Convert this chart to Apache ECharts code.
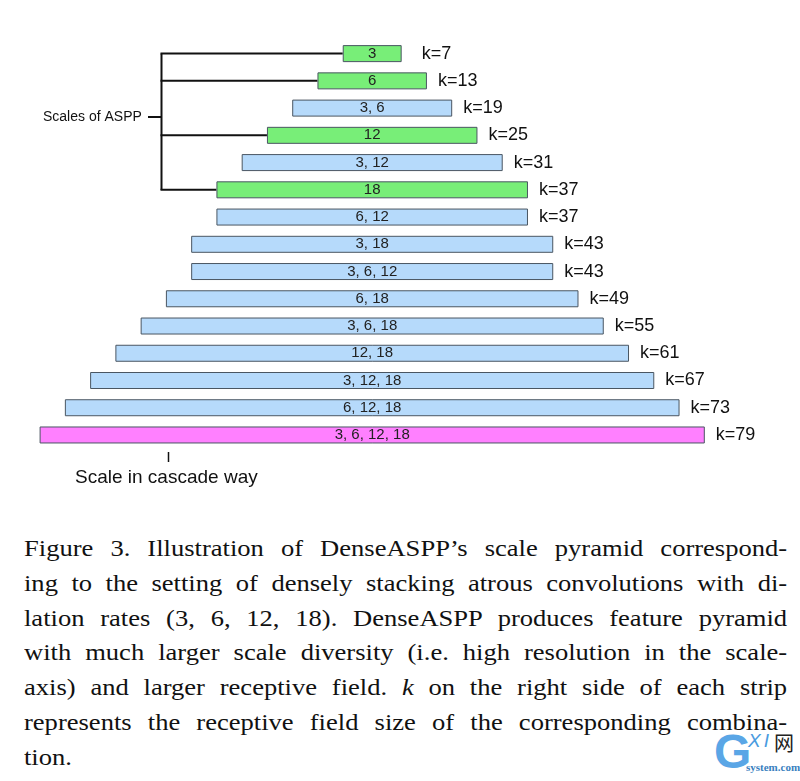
<!DOCTYPE html>
<html>
<head>
<meta charset="utf-8">
<script src="https://cdn.jsdelivr.net/npm/echarts@6/dist/echarts.min.js"></script>
<style>
  html, body { margin: 0; padding: 0; background: #fff; width: 800px; height: 781px; overflow: hidden; }
  #chart { position: absolute; left: 0; top: 0; width: 800px; height: 520px; }
  #caption { position: absolute; left: 24px; top: 531px; width: 690px;
    transform: scaleX(1.106); transform-origin: 0 0;
    font-family: "Liberation Serif", "DejaVu Serif", serif; font-size: 24px; line-height: 34.8px; color: #111; }
  #caption div { text-align: justify; text-align-last: justify; white-space: nowrap; }
  #caption div.last { text-align: left; text-align-last: left; }
  #wm { position: absolute; left: 712px; top: 728px; width: 88px; height: 53px; font-family: "Liberation Sans", sans-serif; color: #4a9be0; }
</style>
</head>
<body>
<div id="chart"></div>
<div id="caption">
  <div>Figure 3. Illustration of DenseASPP’s scale pyramid correspond-</div>
  <div>ing to the setting of densely stacking atrous convolutions with di-</div>
  <div>lation rates (3, 6, 12, 18). DenseASPP produces feature pyramid</div>
  <div>with much larger scale diversity (i.e. high resolution in the scale-</div>
  <div>axis) and larger receptive field. <i>k</i> on the right side of each strip</div>
  <div>represents the receptive field size of the corresponding combina-</div>
  <div class="last">tion.</div>
</div>
<div id="wm">
  <span style="position:absolute;left:2px;top:-4px;font-size:48px;font-weight:bold;color:#5aa6e6;">G</span>
  <span style="position:absolute;left:36px;top:2px;font-size:19px;font-style:italic;color:#4a9be0;letter-spacing:3px;">XI</span>
  <span style="position:absolute;left:62px;top:0px;font-size:20px;color:#222;font-family:'Noto Sans CJK SC';">网</span>
  <span style="position:absolute;left:34px;top:33px;font-size:11px;color:#3a7fc0;font-family:'Liberation Serif';font-weight:bold;">system.com</span>
</div>
<script>
// ---- data ----
const combos = ['3', '6', '3, 6', '12', '3, 12', '18', '6, 12', '3, 18', '3, 6, 12', '6, 18', '3, 6, 18', '12, 18', '3, 12, 18', '6, 12, 18', '3, 6, 12, 18'];
const kValues = [7, 13, 19, 25, 31, 37, 37, 43, 43, 49, 55, 61, 67, 73, 79];
const kinds = ['aspp', 'aspp', 'dense', 'aspp', 'dense', 'aspp', 'dense', 'dense', 'dense', 'dense', 'dense', 'dense', 'dense', 'dense', 'full'];
const kMax = 79;
const leftLabel = 'Scales of ASPP';
const bottomLabel = 'Scale in cascade way';

const colors = { aspp: '#78ee78', dense: '#b6dafb', full: '#ff80ff' };
const chart = echarts.init(document.getElementById('chart'));

const padData = kValues.map(k => (kMax - k) / 2);
const barData = kValues.map((k, i) => ({ value: k, itemStyle: { color: colors[kinds[i]] } }));
const rightData = kValues.map((k, i) => ({
  value: (kMax - k) / 2 + 0.0001,
  label: { distance: i === 0 ? 20 : 11 }
}));

chart.setOption({
  animation: false,
  grid: { left: 39.6, width: 665.2, top: 40, height: 408.6, containLabel: false },
  xAxis: { type: 'value', min: 0, max: kMax, show: false },
  yAxis: { type: 'category', data: combos, inverse: true, show: false },
  series: [
    { type: 'bar', stack: 's', data: padData, barWidth: 17, itemStyle: { color: 'transparent' }, silent: true },
    { type: 'bar', stack: 's', data: barData, barWidth: 17,
      itemStyle: { borderColor: '#4a5662', borderWidth: 1 },
      label: { show: true, position: 'inside', formatter: p => combos[p.dataIndex],
        fontFamily: '"Liberation Sans", Arial, sans-serif', fontSize: 15, color: '#222' } },
    { type: 'bar', stack: 's', data: rightData, barWidth: 17, itemStyle: { color: 'transparent' },
      label: { show: true, position: 'insideLeft', formatter: p => 'k=' + kValues[p.dataIndex],
        fontFamily: '"Liberation Sans", Arial, sans-serif', fontSize: 18, color: '#111' } }
  ]
});

// ---- annotations (brackets) positioned from the chart's own scales ----
const px = (x, row) => chart.convertToPixel({ gridIndex: 0 }, [x, row]);
const bracketX = 161.5;
const asppRows = kinds.map((t, i) => t === 'aspp' ? i : -1).filter(i => i >= 0);
const lineStyle = { stroke: '#111', lineWidth: 2 };
const graphics = [];
const topY = px(0, asppRows[0])[1];
const botY = px(0, asppRows[asppRows.length - 1])[1];
graphics.push({ type: 'line', shape: { x1: bracketX, y1: topY, x2: bracketX, y2: botY }, style: lineStyle });
asppRows.forEach(r => {
  const p = px((kMax - kValues[r]) / 2, r);
  graphics.push({ type: 'line', shape: { x1: bracketX - 1, y1: p[1], x2: p[0], y2: p[1] }, style: lineStyle });
});
const midY = 117;
graphics.push({ type: 'line', shape: { x1: 148, y1: midY, x2: bracketX, y2: midY }, style: lineStyle });
graphics.push({ type: 'text', x: 43, y: midY, style: { text: leftLabel, font: '14px "Liberation Sans", Arial, sans-serif', fill: '#111', textVerticalAlign: 'middle', verticalAlign: 'middle' } });
graphics.push({ type: 'line', shape: { x1: 168.5, y1: 452, x2: 168.5, y2: 462 }, style: { stroke: '#111', lineWidth: 1.5 } });
graphics.push({ type: 'text', x: 75, y: 478, style: { text: bottomLabel, font: '19px "Liberation Sans", Arial, sans-serif', fill: '#111', textVerticalAlign: 'middle', verticalAlign: 'middle' } });
chart.setOption({ graphic: graphics });
</script>
</body>
</html>
